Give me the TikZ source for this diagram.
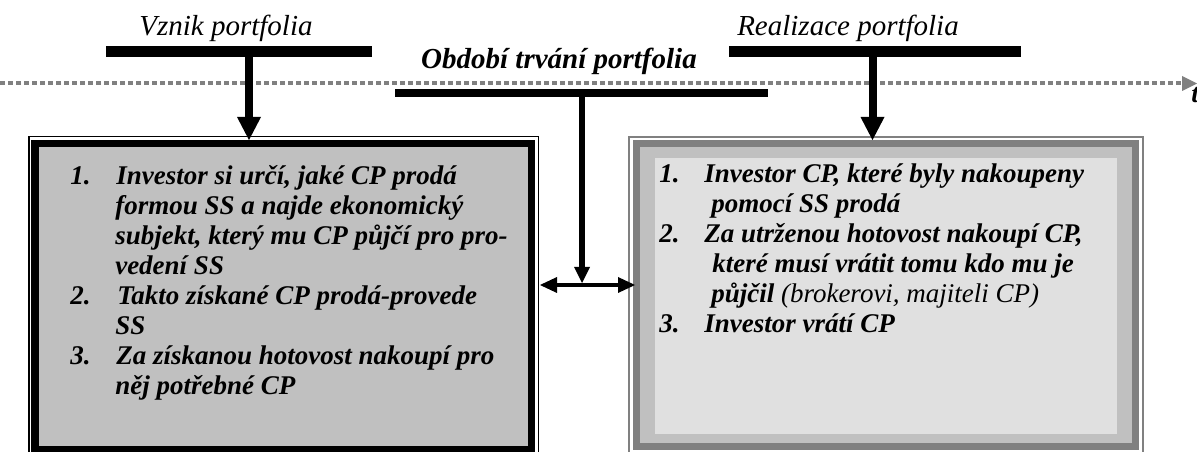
\documentclass[tikz,border=0pt]{standalone}
\usepackage{fontspec}
\setmainfont{Liberation Serif}
\usetikzlibrary{arrows.meta}
\definecolor{dgray}{HTML}{808080}
\definecolor{mgray}{HTML}{C0C0C0}
\definecolor{lgray}{HTML}{E0E0E0}
\tikzset{
  barnode/.style={fill=black, draw=none, inner sep=0pt, outer sep=0pt},
  lbl/.style={font=\fontsize{21.75}{26}\selectfont\itshape, inner sep=0pt, anchor=base},
  blbl/.style={font=\fontsize{21.75}{26}\selectfont\bfseries\itshape, inner sep=0pt, anchor=base},
  txt/.style={font=\fontsize{20.25}{22.5}\selectfont\bfseries\itshape, inner sep=0pt, anchor=base west},
  bigarrow/.style={line width=6pt, -{Triangle[length=17.25pt,width=18pt,line width=0pt]}},
  midarrow/.style={line width=4.5pt, -{Triangle[length=12pt,width=12pt,line width=0pt]}},
  harrow/.style={line width=3pt, {Triangle[length=12.75pt,width=12pt,line width=0pt]}-{Triangle[length=12.75pt,width=12pt,line width=0pt]}},
  axisline/.style={draw=dgray, line width=3pt, dash pattern=on 3.4pt off 2.6pt, -{Triangle[length=11.25pt,width=11.25pt,line width=0pt,fill=dgray]}},
}
\begin{document}
\begin{tikzpicture}[x=0.75pt,y=-0.75pt]
\useasboundingbox (0,0) rectangle (1197,452);
\fill[white] (0,0) rectangle (1197,452);

% time axis
\coordinate (ax0) at (0,83.5);
\coordinate (ax1) at (1197,83.5);
\draw[axisline] (ax0) -- (ax1);
\node[txt] (tlab) at (1191,103) {t};

% left box
\node[draw=black, line width=1.125pt, minimum width=382.125pt, minimum height=249.94pt, inner sep=0pt] (boxLo) at (283.5,303.375) {};
\node[draw=black, fill=mgray, line width=5.6pt, minimum width=372.375pt, minimum height=229.5pt, inner sep=0pt] (boxL) at (283.25,296.5) {};

% right box
\node[draw=dgray, line width=1.5pt, minimum width=385.5pt, minimum height=249.94pt, inner sep=0pt] (boxRo) at (886,303.375) {};
\node[draw=dgray, fill=mgray, line width=5.25pt, minimum width=374.25pt, minimum height=227.25pt, inner sep=0pt] (boxR) at (886,295) {};
\node[fill=lgray, draw=none, minimum width=346.5pt, minimum height=207pt, inner sep=0pt] (boxRi) at (886,296) {};

% bars
\node[barnode, minimum width=199.5pt, minimum height=8.25pt] (barL) at (239,51.5) {};
\node[barnode, minimum width=219pt, minimum height=8.25pt] (barR) at (875,51.5) {};
\node[barnode, minimum width=279.75pt, minimum height=6pt] (barM) at (581.5,93) {};

% labels
\node[lbl] (vznik) at (226,36) {Vznik portfolia};
\node[lbl] (real) at (848,36) {Realizace portfolia};
\node[blbl] (obdobi) at (559,69) {Období trvání portfolia};

% arrows
\coordinate (tL) at (249,140);
\coordinate (tR) at (872.5,140);
\coordinate (tM) at (582,283);
\coordinate (hL) at (540,285);
\coordinate (hR) at (635,285);
\draw[bigarrow] (barL.south -| tL) -- (tL);
\draw[bigarrow] (barR.south -| tR) -- (tR);
\draw[midarrow] (barM.south -| tM) -- (tM);
\draw[harrow] (hL) -- (hR);

% left text
\node[txt] (l1n) at (70,185) {1.};
\node[txt] (l1a) at (116,185) {Investor si určí, jaké CP prodá};
\node[txt] (l1b) at (115,215) {formou SS a najde ekonomický};
\node[txt] (l1c) at (115,245) {subjekt, který mu CP půjčí pro pro-};
\node[txt] (l1d) at (115,275) {vedení SS};
\node[txt] (l2n) at (70,305) {2.};
\node[txt] (l2a) at (117,305) {Takto získané CP prodá-provede};
\node[txt] (l2b) at (115,335) {SS};
\node[txt] (l3n) at (70,365) {3.};
\node[txt] (l3a) at (116,365) {Za získanou hotovost nakoupí pro};
\node[txt] (l3b) at (115,395) {něj potřebné CP};

% right text
\node[txt] (r1n) at (659,183) {1.};
\node[txt] (r1a) at (704,183) {Investor CP, které byly nakoupeny};
\node[txt] (r1b) at (711,213) {pomocí SS prodá};
\node[txt] (r2n) at (659,243) {2.};
\node[txt] (r2a) at (704,243) {Za utrženou hotovost nakoupí CP,};
\node[txt] (r2b) at (712,273) {které musí vrátit tomu kdo mu je};
\node[txt] (r2c) at (711,303) {půjčil {\mdseries(brokerovi, majiteli CP)}};
\node[txt] (r3n) at (659,333) {3.};
\node[txt] (r3a) at (704,333) {Investor vrátí CP};
\end{tikzpicture}
\end{document}
